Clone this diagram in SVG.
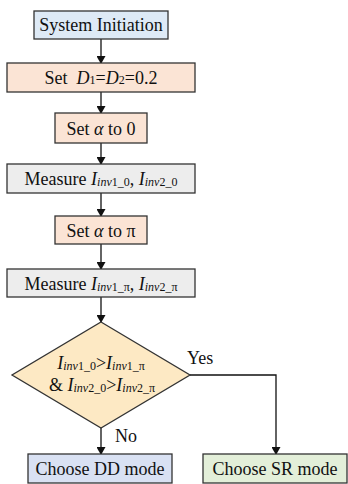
<svg xmlns="http://www.w3.org/2000/svg" width="348" height="484" viewBox="0 0 348 484">
<defs>
<marker id="ah" markerWidth="8" markerHeight="9" refX="7" refY="4.5" orient="auto" markerUnits="userSpaceOnUse">
<path d="M0,0 L8,4.5 L0,9 Z" fill="#111"/>
</marker>
<style>
.box{stroke:#333;stroke-width:1.3}
.blue{fill:#deeaf6}
.peach{fill:#fbe4d5}
.gray{fill:#ededed}
.yel{fill:#fde9c4}
.dd{fill:#d9e1f3}
.sr{fill:#e3efd9}
text{font-family:"Liberation Serif","Times New Roman",serif;font-size:18px;fill:#111}
.c{text-anchor:middle}
.i{font-style:italic}
.s{font-size:12px}
.conn{stroke:#111;stroke-width:1.3;fill:none}
</style>
</defs>
<g id="connectors">
<path class="conn" d="M101,39 V63" marker-end="url(#ah)"/>
<path class="conn" d="M101,92 V113" marker-end="url(#ah)"/>
<path class="conn" d="M101,143 V164" marker-end="url(#ah)"/>
<path class="conn" d="M101,193 V216" marker-end="url(#ah)"/>
<path class="conn" d="M101,244 V269" marker-end="url(#ah)"/>
<path class="conn" d="M101,297 V322" marker-end="url(#ah)"/>
<path class="conn" d="M101,428 V454" marker-end="url(#ah)"/>
<path class="conn" d="M190,375 H276 V454" marker-end="url(#ah)"/>
<text x="187" y="364">Yes</text>
<text x="115" y="442">No</text>
</g>
<g id="n1">
<rect class="box blue" x="34" y="11" width="134" height="28"/>
<text class="c" x="101" y="31">System Initiation</text>
</g>
<g id="n2">
<rect class="box peach" x="7" y="63" width="188" height="29"/>
<text class="c" x="101" y="84">Set&#160; <tspan class="i">D</tspan><tspan class="s">1</tspan>=<tspan class="i">D</tspan><tspan class="s">2</tspan>=0.2</text>
</g>
<g id="n3">
<rect class="box peach" x="55" y="113" width="92" height="30"/>
<text class="c" x="101" y="135">Set <tspan class="i">α</tspan> to 0</text>
</g>
<g id="n4">
<rect class="box gray" x="7" y="164" width="188" height="29"/>
<text class="c" x="101" y="185">Measure <tspan class="i">I</tspan><tspan class="s i" dy="1">inv</tspan><tspan class="s">1_0</tspan><tspan dy="-1">, </tspan><tspan class="i">I</tspan><tspan class="s i" dy="1">inv</tspan><tspan class="s">2_0</tspan></text>
</g>
<g id="n5">
<rect class="box peach" x="55" y="216" width="92" height="28"/>
<text class="c" x="101" y="237">Set <tspan class="i">α</tspan> to π</text>
</g>
<g id="n6">
<rect class="box gray" x="7" y="269" width="188" height="28"/>
<text class="c" x="101" y="290">Measure <tspan class="i">I</tspan><tspan class="s i" dy="1">inv</tspan><tspan class="s">1_π</tspan><tspan dy="-1">, </tspan><tspan class="i">I</tspan><tspan class="s i" dy="1">inv</tspan><tspan class="s">2_π</tspan></text>
</g>
<g id="n7">
<polygon class="box yel" points="101,322 190,375 101,428 12,375"/>
<text class="c" x="101" y="369"><tspan class="i">I</tspan><tspan class="s i" dy="1">inv</tspan><tspan class="s">1_0</tspan><tspan dy="-1">&gt;</tspan><tspan class="i">I</tspan><tspan class="s i" dy="1">inv</tspan><tspan class="s">1_π</tspan></text>
<text class="c" x="102" y="391">&amp; <tspan class="i">I</tspan><tspan class="s i" dy="1">inv</tspan><tspan class="s">2_0</tspan><tspan dy="-1">&gt;</tspan><tspan class="i">I</tspan><tspan class="s i" dy="1">inv</tspan><tspan class="s">2_π</tspan></text>
</g>
<g id="n8">
<rect class="box dd" x="28" y="454" width="144" height="29"/>
<text class="c" x="100" y="475">Choose DD mode</text>
</g>
<g id="n9">
<rect class="box sr" x="203" y="454" width="144" height="29"/>
<text class="c" x="275" y="475">Choose SR mode</text>
</g>
</svg>
